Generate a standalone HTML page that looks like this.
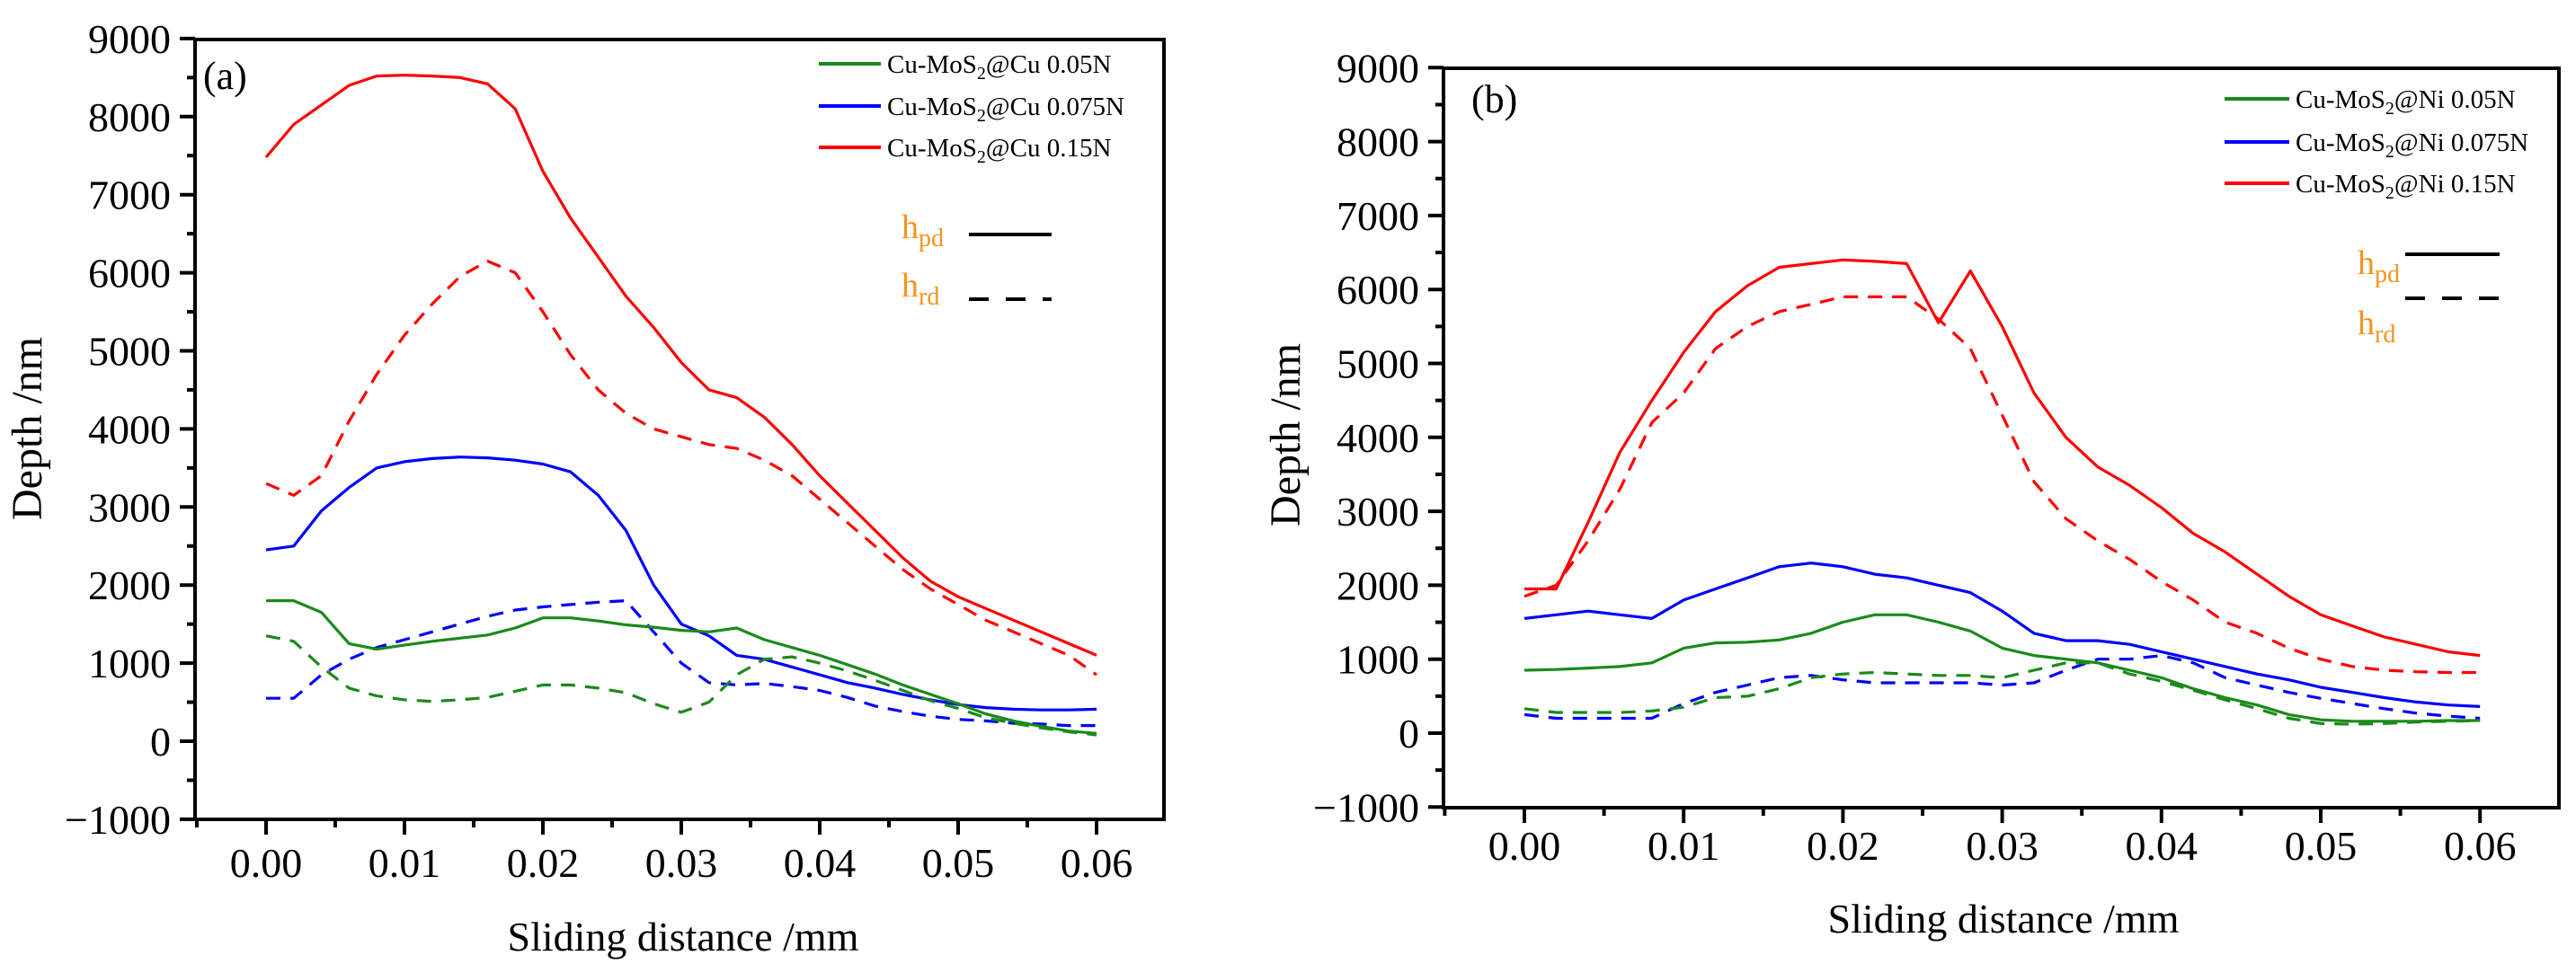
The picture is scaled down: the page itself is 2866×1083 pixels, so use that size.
<!DOCTYPE html>
<html><head><meta charset="utf-8"><style>
html,body{margin:0;padding:0;background:#fff}
svg{display:block;font-family:"Liberation Serif","Times New Roman",serif}
svg text{font-family:"Liberation Serif","Times New Roman",serif}
</style></head><body>
<svg id="fig" width="2866" height="1083" viewBox="0 0 2866 1083" xmlns="http://www.w3.org/2000/svg" font-family="Liberation Serif, Times New Roman, serif"></svg>
<script>
const xs = [0,0.002,0.004,0.006,0.008,0.010,0.012,0.014,0.016,0.018,0.020,0.022,0.024,0.026,0.028,0.030,0.032,0.034,0.036,0.038,0.040,0.042,0.044,0.046,0.048,0.050,0.052,0.054,0.056,0.058,0.060];
const xTicks = ["0.00","0.01","0.02","0.03","0.04","0.05","0.06"];
const yTicks = ["-1000","0","1000","2000","3000","4000","5000","6000","7000","8000","9000"];
// Panel (a)
const aRedSolid = [7480,7900,8150,8400,8520,8530,8520,8500,8420,8100,7300,6700,6200,5700,5300,4850,4500,4400,4150,3800,3400,3050,2700,2350,2050,1850,1700,1550,1400,1250,1100];
const aRedDash = [3300,3150,3400,4100,4700,5200,5600,5950,6150,6000,5500,4950,4500,4200,4000,3900,3800,3750,3600,3400,3100,2800,2500,2200,1950,1750,1550,1400,1250,1100,850];
const aBlueSolid = [2450,2500,2950,3250,3500,3580,3620,3640,3630,3600,3550,3450,3150,2700,2000,1500,1350,1100,1050,950,850,750,680,600,530,470,430,410,400,400,410];
const aBlueDash = [550,550,850,1050,1200,1300,1400,1500,1600,1680,1720,1750,1780,1800,1400,1000,750,720,740,700,650,560,450,380,320,280,260,230,220,200,200];
const aGreenSolid = [1800,1800,1650,1250,1180,1230,1280,1320,1360,1450,1580,1580,1540,1490,1460,1420,1400,1450,1300,1200,1100,980,860,720,600,480,350,260,190,130,100];
const aGreenDash = [1350,1280,950,680,580,530,510,530,560,640,720,720,680,620,480,370,500,850,1050,1080,1000,900,780,650,520,420,300,230,170,120,80];
// Panel (b)
const bRedSolid = [1950,1950,2850,3800,4500,5150,5700,6050,6300,6350,6400,6380,6350,5550,6250,5500,4600,4000,3600,3350,3050,2700,2450,2150,1850,1600,1450,1300,1200,1100,1050];
const bRedDash = [1850,2000,2600,3300,4200,4600,5200,5500,5700,5800,5900,5900,5900,5600,5200,4300,3400,2900,2600,2350,2050,1800,1500,1350,1150,1000,900,850,830,820,820];
const bBlueSolid = [1550,1600,1650,1600,1550,1800,1950,2100,2250,2300,2250,2150,2100,2000,1900,1650,1350,1250,1250,1200,1100,1000,900,800,720,620,550,480,420,380,360];
const bBlueDash = [250,200,200,200,200,400,550,650,750,780,720,680,680,680,680,650,680,850,1000,1000,1050,950,750,650,550,470,400,330,270,230,200];
const bGreenSolid = [850,860,880,900,950,1150,1220,1230,1260,1350,1500,1600,1600,1500,1380,1150,1050,1000,950,850,750,600,480,380,250,180,160,160,160,170,170];
const bGreenDash = [330,280,280,280,300,350,480,500,600,750,800,820,800,780,780,750,850,950,950,800,700,580,450,330,200,130,120,130,150,160,170];
const aLegend = ["Cu-MoS|2|@Cu 0.05N","Cu-MoS|2|@Cu 0.075N","Cu-MoS|2|@Cu 0.15N"];
const bLegend = ["Cu-MoS|2|@Ni 0.05N","Cu-MoS|2|@Ni 0.075N","Cu-MoS|2|@Ni 0.15N"];

const NS="http://www.w3.org/2000/svg";
const svg=document.getElementById('fig');
const FF='"Liberation Serif", "Times New Roman", serif';
function mk(tag,attrs,parent){const e=document.createElementNS(NS,tag);for(const k in attrs)e.setAttribute(k,attrs[k]);if(tag==='text'){e.setAttribute('font-family',FF);e.style.fontFamily=FF;}(parent||svg).appendChild(e);return e;}
const GREEN="#1a8a1a",BLUE="#0000ff",RED="#ff0000",ORANGE="#f7931e";

function panel(P){
  const g=mk('g',{});
  
  
  const sx=v=>P.x0+(v/0.01)*P.dx;
  const sy=v=>P.y0-(v/1000)*P.dy;
  P.series.forEach(s=>{
    let d='';
    xs.forEach((x,i)=>{d+=(i?'L':'M')+sx(x).toFixed(1)+','+sy(s.v[i]).toFixed(1);});
    const p=mk('path',{d:d,fill:'none',stroke:s.c,'stroke-width':3.2,'stroke-linejoin':'round'},g);
    if(s.dash)p.setAttribute('stroke-dasharray','16 11');
    
    
  });
  const fr=mk('rect',{x:P.L,y:P.T,width:P.R-P.L,height:P.B-P.T,fill:'none',stroke:'#000','stroke-width':4},g);
  
  
  yTicks.forEach(t=>{
    const v=+t,y=sy(v);
    mk('line',{x1:P.L-17,x2:P.L,y1:y,y2:y,stroke:'#000','stroke-width':4},g);
    if(v<9000){const ym=sy(v+500);mk('line',{x1:P.L-9,x2:P.L,y1:ym,y2:ym,stroke:'#000','stroke-width':4},g);}
    const tx=mk('text',{x:P.L-27,y:y+16,'text-anchor':'end','font-size':46},g);
    tx.textContent=v<0?'\u22121000':t;
    
    
  });
  xTicks.forEach((t,i)=>{
    const x=sx(+t);
    mk('line',{x1:x,x2:x,y1:P.B,y2:P.B+17,stroke:'#000','stroke-width':4},g);
    const xm=sx(+t-0.005);
    mk('line',{x1:xm,x2:xm,y1:P.B,y2:P.B+9,stroke:'#000','stroke-width':4},g);
    const tx=mk('text',{x:x,y:P.xlabY,'text-anchor':'middle','font-size':46},g);
    tx.textContent=t;
    
    
  });
  const xt=mk('text',{x:P.xtX,y:P.xtY,'text-anchor':'middle','font-size':46},g);
  xt.textContent='Sliding distance /mm';
  
  
  const yt=mk('text',{x:0,y:0,'text-anchor':'middle','font-size':48,transform:'translate('+P.ytX+','+P.ytY+') rotate(-90)'},g);
  yt.textContent='Depth /nm';
  
  
  const pl=mk('text',{x:P.lblX,y:P.lblY,'font-size':44},g);
  pl.textContent=P.label;
  
  
  [GREEN,BLUE,RED].forEach((c,i)=>{
    const y=P.legY[i];
    const ln=mk('line',{x1:P.legX1,x2:P.legX2,y1:y,y2:y,stroke:c,'stroke-width':4},g);
    
    
    const parts=P.legend[i].split('|');
    const tx=mk('text',{x:P.legX2+7,y:y+10,'font-size':29},g);
    
    
    const a=mk('tspan',{},tx);a.textContent=parts[0];
    const b=mk('tspan',{dy:7,'font-size':20},tx);b.textContent=parts[1];
    const c2=mk('tspan',{dy:-7},tx);c2.textContent=parts[2];
  });
  [['pd',P.hpdY,P.hpdLine,false],['rd',P.hrdY,P.hrdLine,true]].forEach(h=>{
    const tx=mk('text',{x:P.hX,y:h[1],'font-size':38,fill:ORANGE},g);
    
    
    const a=mk('tspan',{fill:ORANGE},tx);a.textContent='h';
    const b=mk('tspan',{dy:9,'font-size':28,fill:ORANGE},tx);b.textContent=h[0];
    const ln=mk('line',{x1:P.hL1,x2:P.hL2,y1:h[2],y2:h[2],stroke:'#000','stroke-width':4},g);
    if(h[3])ln.setAttribute('stroke-dasharray','22 19');
    
    
  });
}
panel({name:'panel-a',L:217,R:1295,T:44,B:912,x0:296,dx:154,y0:825,dy:86.9,xlabY:976,xtX:760,xtY:1058,ytX:46,ytY:477,
  label:'(a)',lblX:226,lblY:99,legend:aLegend,legX1:911,legX2:980,legY:[71,118,164],
  hX:1003,hpdY:265,hrdY:330,hpdLine:261,hrdLine:333,hL1:1078,hL2:1170,
  series:[{v:aRedSolid,c:RED,n:'a-red-hpd'},{v:aRedDash,c:RED,dash:1,n:'a-red-hrd'},{v:aBlueSolid,c:BLUE,n:'a-blue-hpd'},{v:aBlueDash,c:BLUE,dash:1,n:'a-blue-hrd'},{v:aGreenSolid,c:GREEN,n:'a-green-hpd'},{v:aGreenDash,c:GREEN,dash:1,n:'a-green-hrd'}]});
panel({name:'panel-b',L:1606,R:2847,T:76,B:899,x0:1696,dx:177.2,y0:816,dy:82.3,xlabY:957,xtX:2229,xtY:1038,ytX:1446,ytY:484,
  label:'(b)',lblX:1637,lblY:125,legend:bLegend,legX1:2475,legX2:2547,legY:[110,158,204],
  hX:2623,hpdY:305,hrdY:372,hpdLine:283,hrdLine:332,hL1:2676,hL2:2781,
  series:[{v:bRedSolid,c:RED,n:'b-red-hpd'},{v:bRedDash,c:RED,dash:1,n:'b-red-hrd'},{v:bBlueSolid,c:BLUE,n:'b-blue-hpd'},{v:bBlueDash,c:BLUE,dash:1,n:'b-blue-hrd'},{v:bGreenSolid,c:GREEN,n:'b-green-hpd'},{v:bGreenDash,c:GREEN,dash:1,n:'b-green-hrd'}]});
</script>
</body></html>
